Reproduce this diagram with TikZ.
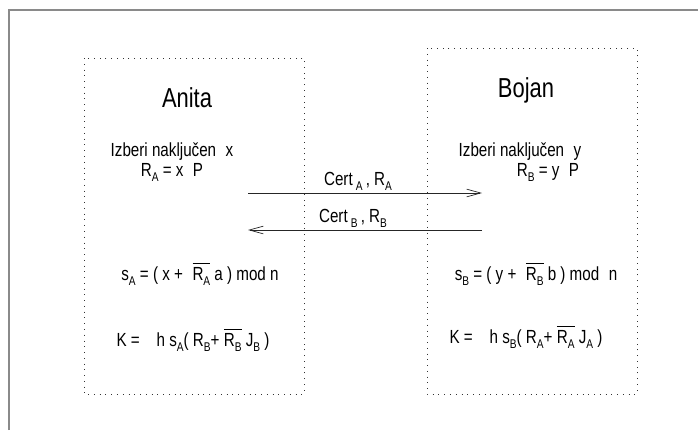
\documentclass[tikz,border=0pt]{standalone}
\usepackage{fontspec}
\setmainfont{Liberation Sans}[FakeStretch=0.8]
\usetikzlibrary{arrows.meta}
\definecolor{framegray}{HTML}{8A8A8A}
\newcommand\sub[1]{\raisebox{-4pt}{\fontsize{9}{10}\selectfont #1}}
\newcommand\ovl[1]{\leavevmode\vbox{\hrule height0.5pt\kern2.6pt\hbox{#1}}}
\tikzset{
  party/.style={draw=black!80, line width=0.6pt, dash pattern=on 0.7pt off 3.4pt},
  partyname/.style={anchor=base, font=\fontsize{19.5}{22}\selectfont, inner sep=0pt},
  txt/.style={anchor=base, inner sep=0pt},
  msg/.style={-{Straight Barb[length=10pt,width=5.5pt]}, line width=0.5pt, draw=black!85},
  frame/.style={draw=framegray, line width=1.4pt}
}
\begin{document}
\begin{tikzpicture}[font=\fontsize{13.5}{15}\selectfont, x=0.025cm, y=-0.025cm]
  \useasboundingbox (0,0) rectangle (698,430);
  \draw[frame] (9,430) -- (9,10) -- (698,10);

  \draw[party] (84,58) rectangle (304,394);
  \draw[party] (427,48) rectangle (637,394);

  \node[partyname] (anita) at (187,107) {Anita};
  \node[partyname] (bojan) at (526,97) {Bojan};

  \node[txt] (izbA) at (172,156) {Izberi naključen\enspace x};
  \node[txt] (rA) at (172,176) {R\sub{A} = x\enspace P};
  \node[txt] (izbB) at (520,156) {Izberi naključen\enspace y};
  \node[txt] (rB) at (548,176) {R\sub{B} = y\enspace P};

  \coordinate (a1s) at (248,193);
  \coordinate (a1e) at (482,193);
  \coordinate (a2s) at (482,230);
  \coordinate (a2e) at (248,230);
  \draw[msg] (a1s) -- (a1e);
  \draw[msg] (a2s) -- (a2e);
  \node[txt] (certA) at (358,185) {Cert\,\sub{A}\,, R\sub{A}};
  \node[txt] (certB) at (353,222) {Cert\,\sub{B}\,, R\sub{B}};

  \node[txt] (sA) at (200,280) {s\sub{A} = ( x +\enspace \ovl{R\sub{A}} a ) mod n};
  \node[txt] (sB) at (536,280) {s\sub{B} = ( y +\enspace \ovl{R\sub{B}} b ) mod\enspace n};
  \node[txt] (kA) at (193,346) {K =\enspace\, h s\sub{A}( R\sub{B}+ \ovl{R\sub{B}} J\sub{B} )};
  \node[txt] (kB) at (526,343) {K =\enspace\, h s\sub{B}( R\sub{A}+ \ovl{R\sub{A}} J\sub{A} )};
\end{tikzpicture}
\end{document}
